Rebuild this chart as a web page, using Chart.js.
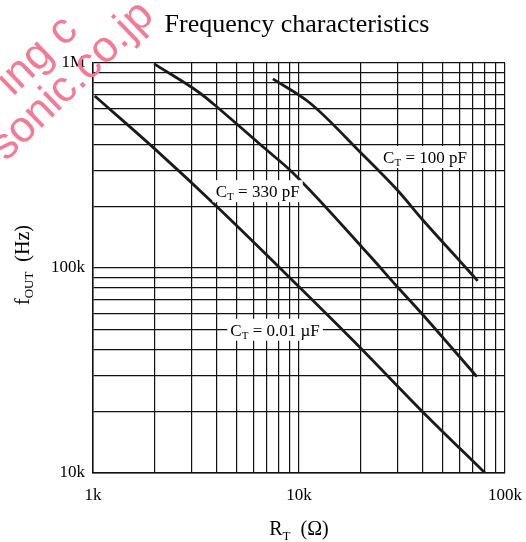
<!DOCTYPE html>
<html>
<head>
<meta charset="utf-8">
<script src="https://cdn.jsdelivr.net/npm/chart.js@4.4.1/dist/chart.umd.min.js"></script>
<style>
    html, body { margin: 0; padding: 0; background: #fff; }
</style>
</head>
<body>
<canvas id="freqChart" width="526" height="542"></canvas>
<script>
"use strict";

// R_T (ohm) vs f_OUT (Hz)
var rt100pF   = [7470, 11300, 20000, 30000, 40000, 58500, 73700];
var fout100pF = [836000, 638000, 364000, 240000, 171000, 112000, 86500];

var rt330pF   = [1980, 3300, 4000, 6700, 9350, 22000, 30000, 40000, 73000];
var fout330pF = [990000, 714000, 610000, 389000, 291000, 115000, 81000, 59000, 29500];

var rt001uF   = [1020, 2000, 4000, 10000, 20000, 40000, 80000];
var fout001uF = [690000, 380000, 199000, 81000, 40500, 19800, 10000];

// grid lines (1..9 per decade)
var xGrid = [1000, 2000, 3000, 4000, 5000, 6000, 7000, 8000, 9000,
             10000, 20000, 30000, 40000, 50000, 60000, 70000, 80000, 90000, 100000];
var yGrid = [10000, 20000, 30000, 40000, 50000, 60000, 70000, 80000, 90000,
             100000, 200000, 300000, 400000, 500000, 600000, 700000, 800000, 900000, 1000000];

var xTickValues = [1000, 10000, 100000];
var xTickText   = ['1k', '10k', '100k'];
var yTickValues = [10000, 100000, 1000000];
var yTickText   = ['10k', '100k', '1M'];

var serif = '"Liberation Serif", "DejaVu Serif", serif';

function toPoints(xs, ys) {
    return xs.map(function (x, i) { return { x: x, y: ys[i] }; });
}

// draws "main" + subscript + rest, centred on x
function subText(ctx, x, y, main, sub, rest, size, subSize, subDrop) {
    ctx.font = size + 'px ' + serif;
    var w1 = ctx.measureText(main).width;
    var w3 = ctx.measureText(rest).width;
    ctx.font = subSize + 'px ' + serif;
    var w2 = ctx.measureText(sub).width;
    var left = x - (w1 + w2 + w3) / 2;
    ctx.textAlign = 'left';
    ctx.textBaseline = 'alphabetic';
    ctx.font = size + 'px ' + serif;
    ctx.fillText(main, left, y);
    ctx.font = subSize + 'px ' + serif;
    ctx.fillText(sub, left + w1, y + subDrop);
    ctx.font = size + 'px ' + serif;
    ctx.fillText(rest, left + w1 + w2, y);
}

var decorations = {
    id: 'decorations',
    afterDraw: function (chart) {
        var ctx = chart.ctx, xs = chart.scales.x, ys = chart.scales.y;
        ctx.save();
        ctx.fillStyle = '#000';

        // curve labels on white boxes
        var labels = [
            { x: 6300,  y: 237000, rest: ' = 330 pF' },
            { x: 40900, y: 348000, rest: ' = 100 pF' },
            { x: 7650,  y: 50000,  rest: ' = 0.01 \u00b5F' }
        ];
        labels.forEach(function (l) {
            var px = xs.getPixelForValue(l.x), py = ys.getPixelForValue(l.y);
            ctx.font = '17px ' + serif;
            var w = ctx.measureText('C' + l.rest).width + 7;
            ctx.fillStyle = '#fff';
            ctx.fillRect(px - w / 2 - 3, py - 11, w + 6, 22);
            ctx.fillStyle = '#000';
            subText(ctx, px, py + 6, 'C', 'T', l.rest, 17, 11, 3);
        });

        // title
        ctx.font = '26px ' + serif;
        ctx.textAlign = 'center';
        ctx.textBaseline = 'alphabetic';
        ctx.fillText('Frequency characteristics', 297, 32);

        // axis titles
        subText(ctx, 299, 535, 'R', 'T', '  (\u03a9)', 20, 13, 5);
        ctx.save();
        ctx.translate(29, 265);
        ctx.rotate(-Math.PI / 2);
        subText(ctx, 0, 0, 'f', 'OUT', '  (Hz)', 20, 13, 4);
        ctx.restore();

        // watermark
        ctx.fillStyle = '#f47a95';
        ctx.font = '44px "Liberation Sans", Arial, sans-serif';
        ctx.translate(6, 162);
        ctx.rotate(-44 * Math.PI / 180);
        ctx.textAlign = 'left';
        ctx.fillText('sonic.co.jp', 0, 0);
        ctx.fillText('ing c', 50, -42);
        ctx.restore();
    }
};

var tickFont = { family: serif, size: 17 };

new Chart(document.getElementById('freqChart').getContext('2d'), {
    type: 'line',
    data: {
        datasets: [
            { label: '100 pF',  data: toPoints(rt100pF, fout100pF) },
            { label: '330 pF',  data: toPoints(rt330pF, fout330pF) },
            { label: '0.01 uF', data: toPoints(rt001uF, fout001uF) }
        ]
    },
    options: {
        responsive: false,
        animation: false,
        devicePixelRatio: 1,
        layout: { padding: { top: 63, right: 21, left: 0, bottom: 0 } },
        elements: {
            line: { borderColor: '#1a1a1a', borderWidth: 2.8, fill: false, cubicInterpolationMode: 'monotone' },
            point: { radius: 0 }
        },
        plugins: {
            legend: { display: false },
            tooltip: { enabled: false },
            title: { display: false }
        },
        scales: {
            x: {
                type: 'logarithmic',
                min: 1000,
                max: 100000,
                afterBuildTicks: function (s) { s.ticks = xGrid.map(function (v) { return { value: v }; }); },
                afterFit: function (s) {
                    s.height = 69;
                    s.paddingLeft = 0;
                    s.paddingRight = 0;
                },
                ticks: {
                    autoSkip: false,
                    maxRotation: 0,
                    padding: 12,
                    color: '#000',
                    font: tickFont,
                    callback: function (v) {
                        var i = xTickValues.indexOf(v);
                        return i < 0 ? '' : xTickText[i];
                    }
                },
                grid: { color: '#111', lineWidth: 1.2, drawTicks: false },
                border: { color: '#111', width: 1.5 }
            },
            y: {
                type: 'logarithmic',
                min: 10000,
                max: 1000000,
                afterBuildTicks: function (s) { s.ticks = yGrid.map(function (v) { return { value: v }; }); },
                afterFit: function (s) {
                    s.width = 93;
                    s.paddingTop = 0;
                    s.paddingBottom = 0;
                },
                ticks: {
                    autoSkip: false,
                    padding: 8,
                    color: '#000',
                    font: tickFont,
                    callback: function (v) {
                        var i = yTickValues.indexOf(v);
                        return i < 0 ? '' : yTickText[i];
                    }
                },
                grid: { color: '#111', lineWidth: 1.2, drawTicks: false },
                border: { color: '#111', width: 1.5 }
            }
        }
    },
    plugins: [decorations]
});
</script>
</body>
</html>
